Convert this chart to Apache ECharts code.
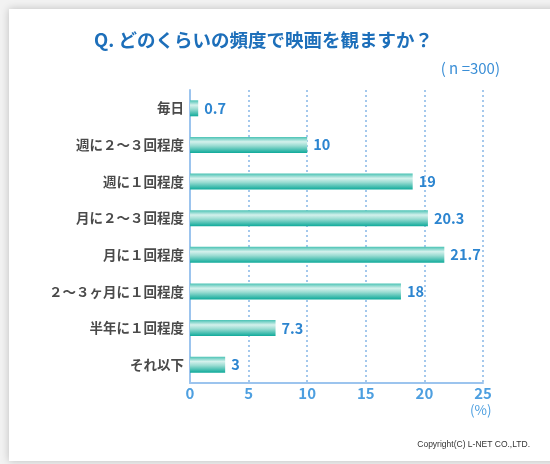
<!DOCTYPE html>
<html><head><meta charset="utf-8">
<script src="https://cdn.jsdelivr.net/npm/echarts@6/dist/echarts.min.js"></script>
<style>html,body{margin:0;padding:0;background:#f2f2f2}#c{width:550px;height:464px}</style>
</head><body><div id="c"></div>
<script>
const categories = ['毎日','週に２～３回程度','週に１回程度','月に２～３回程度','月に１回程度','２～３ヶ月に１回程度','半年に１回程度','それ以下'];
const values = [0.7, 10, 19, 20.3, 21.7, 18, 7.3, 3];
const xTicks = [0, 5, 10, 15, 20, 25];
const titleText = 'Q. どのくらいの頻度で映画を観ますか？';
const sampleText = '( n =300)';
const unitText = '(%)';
const copyText = 'Copyright(C) L-NET CO.,LTD.';

const FONT = '"Noto Sans CJK JP","Noto Sans",sans-serif';
const chart = echarts.init(document.getElementById('c'), null, {renderer:'canvas'});
chart.setOption({
  backgroundColor: '#f2f2f2',
  animation: false,
  graphic: [
    {type:'rect', z:-10, shape:{x:9,y:9,width:560,height:452}, style:{fill:'#ffffff', shadowBlur:8, shadowColor:'rgba(0,0,0,0.22)', shadowOffsetX:0, shadowOffsetY:0}},
    {type:'text', left:94, top:31, style:{text:titleText, fill:'#1d6fba', font:'bold 18.5px ' + FONT}},
    {type:'text', right:50, top:61, style:{text:sampleText, fill:'#3a8ed6', font:'15px ' + FONT}},
    {type:'text', left:470, top:403, style:{text:unitText, fill:'#4d9fe0', font:'13.5px ' + FONT}},
    {type:'text', right:20, top:440, style:{text:copyText, fill:'#333333', font:'8.5px "Liberation Sans",Arial,sans-serif'}}
  ],
  grid: {left:190, right:67, top:90, bottom:81, containLabel:false},
  xAxis: {
    type:'value', min:xTicks[0], max:xTicks[xTicks.length-1], interval:5,
    axisLine:{show:true, lineStyle:{color:'#9cc4ee', width:2}},
    axisTick:{show:false},
    axisLabel:{color:'#4d9fe0', fontSize:15, fontWeight:'bold', fontFamily:FONT, margin:3},
    splitLine:{show:true, lineStyle:{color:'#86b6e6', type:[2,3], width:1.5}}
  },
  yAxis: {
    type:'category', data:categories, inverse:true,
    axisLine:{show:true, lineStyle:{color:'#9cc4ee', width:2}},
    axisTick:{show:false},
    axisLabel:{color:'#4a4a4a', fontSize:13.5, fontWeight:'bold', fontFamily:FONT, margin:6}
  },
  series: [{
    type:'bar', data:values, barWidth:16,
    itemStyle:{color:new echarts.graphic.LinearGradient(0,0,0,1,[
      {offset:0, color:'#49c2b4'},
      {offset:0.3, color:'#d4f1ec'},
      {offset:0.55, color:'#9adcd2'},
      {offset:1, color:'#0faa9a'}
    ])},
    label:{show:true, position:'right', distance:6, color:'#2c85d0', fontSize:14.5, fontWeight:'bold', fontFamily:FONT}
  }]
});
</script></body></html>
